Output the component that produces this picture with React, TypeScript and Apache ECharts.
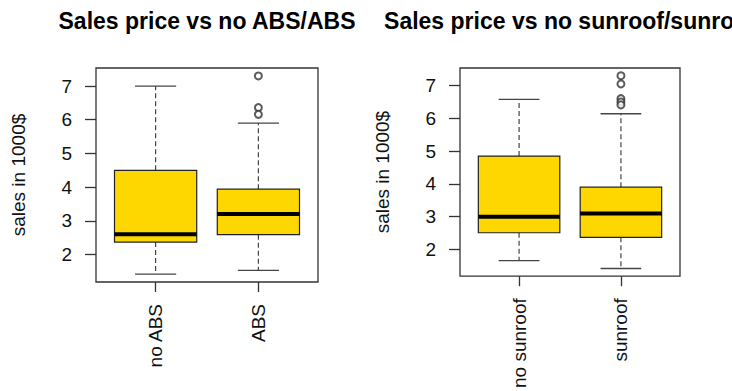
import React, { useEffect, useRef } from "react";
import * as echarts from "echarts";

const panelTitles = ["Sales price vs no ABS/ABS", "Sales price vs no sunroof/sunroof"];
const yAxisTitle = "sales in 1000$";
const absCategories = ["no ABS", "ABS"];
const sunroofCategories = ["no sunroof", "sunroof"];
// [lower whisker, Q1, median, Q3, upper whisker]
const absStats = [
  [1.42, 2.37, 2.6, 4.5, 7.0],
  [1.53, 2.59, 3.2, 3.94, 5.9],
];
const absOutliers = [[], [7.3, 6.36, 6.16]];
const sunroofStats = [
  [1.66, 2.51, 3.0, 4.85, 6.58],
  [1.42, 2.37, 3.1, 3.9, 6.14],
];
const sunroofOutliers = [[], [7.3, 7.05, 6.6, 6.5, 6.41]];
const yTicks = [2, 3, 4, 5, 6, 7];
const xTicks = [1, 2];

const FONT = "'Liberation Sans', Arial, sans-serif";

function renderBox(params: any, api: any) {
  const x = api.value(0);
  const lo = api.value(1);
  const q1 = api.value(2);
  const med = api.value(3);
  const q3 = api.value(4);
  const hi = api.value(5);
  const half = 0.4;
  const capHalf = 0.2;
  const tl = api.coord([x - half, q3]);
  const br = api.coord([x + half, q1]);
  const mL = api.coord([x - half, med]);
  const mR = api.coord([x + half, med]);
  const top = api.coord([x, q3]);
  const hiP = api.coord([x, hi]);
  const bot = api.coord([x, q1]);
  const loP = api.coord([x, lo]);
  const capHiL = api.coord([x - capHalf, hi]);
  const capHiR = api.coord([x + capHalf, hi]);
  const capLoL = api.coord([x - capHalf, lo]);
  const capLoR = api.coord([x + capHalf, lo]);
  const whisk = { stroke: "#444", lineWidth: 1.2, lineDash: [5, 3] };
  const cap = { stroke: "#444", lineWidth: 1.3 };
  return {
    type: "group",
    children: [
      { type: "line", shape: { x1: top[0], y1: top[1], x2: hiP[0], y2: hiP[1] }, style: whisk },
      { type: "line", shape: { x1: bot[0], y1: bot[1], x2: loP[0], y2: loP[1] }, style: whisk },
      { type: "line", shape: { x1: capHiL[0], y1: capHiL[1], x2: capHiR[0], y2: capHiR[1] }, style: cap },
      { type: "line", shape: { x1: capLoL[0], y1: capLoL[1], x2: capLoR[0], y2: capLoR[1] }, style: cap },
      {
        type: "rect",
        shape: { x: tl[0], y: tl[1], width: br[0] - tl[0], height: br[1] - tl[1] },
        style: { fill: "#FFD700", stroke: "#222", lineWidth: 1.2 },
      },
      { type: "line", shape: { x1: mL[0], y1: mL[1], x2: mR[0], y2: mR[1] }, style: { stroke: "#000", lineWidth: 4 } },
    ],
  };
}

function yRange(stats: number[][], outs: number[][]) {
  const all = stats.flat().concat(outs.flat());
  const mn = Math.min(...all);
  const mx = Math.max(...all);
  const pad = (mx - mn) * 0.04;
  return [mn - pad, mx + pad];
}

export default function App() {
  const ref = useRef<HTMLDivElement>(null);
  useEffect(() => {
    if (!ref.current) return;
    const chart = echarts.init(ref.current, undefined, { renderer: "svg" });
    const r1 = yRange(absStats, absOutliers);
    const r2 = yRange(sunroofStats, sunroofOutliers);
    const grids = [
      { left: 96, top: 68, width: 222, height: 214 },
      { left: 460, top: 68, width: 220, height: 214 },
    ];
    const cats = [absCategories, sunroofCategories];
    const ranges = [r1, r2];
    const statsList = [absStats, sunroofStats];
    const outList = [absOutliers, sunroofOutliers];
    const option: any = {
      animation: false,
      backgroundColor: "#fff",
      grid: grids.map((g) => ({ ...g, show: true, borderColor: "#333", borderWidth: 1.3, backgroundColor: "transparent" })),
      xAxis: cats.map((c, i) => ({
        type: "value",
        gridIndex: i,
        min: 0.42,
        max: 2.58,
        splitLine: { show: false },
        axisLine: { show: false },
        axisTick: { show: true, length: 10, inside: false, customValues: xTicks, lineStyle: { color: "#333", width: 1.3 } },
        axisLabel: {
          show: true,
          customValues: xTicks,
          rotate: 90,
          margin: 22,
          fontSize: 19,
          fontFamily: FONT,
          color: "#111",
          formatter: (v: number) => c[Math.round(v) - 1] ?? "",
        },
      })),
      yAxis: ranges.map((r, i) => ({
        type: "value",
        gridIndex: i,
        min: r[0],
        max: r[1],
        splitLine: { show: false },
        axisLine: { show: false },
        axisTick: { show: true, length: 11, inside: false, customValues: yTicks, lineStyle: { color: "#333", width: 1.3 } },
        axisLabel: {
          show: true,
          customValues: yTicks,
          margin: 24,
          fontSize: 19,
          fontFamily: FONT,
          color: "#111",
          formatter: (v: number) => String(Math.round(v)),
        },
        name: yAxisTitle,
        nameLocation: "middle",
        nameGap: 68,
        nameTextStyle: { fontSize: 19, fontFamily: FONT, color: "#111" },
      })),
      graphic: grids.map((g, i) => ({
        type: "text",
        x: g.left + g.width / 2,
        y: 21,
        style: {
          text: panelTitles[i],
          textAlign: "center",
          textVerticalAlign: "middle",
          font: `bold 23px ${FONT}`,
          fill: "#000",
        },
      })),
      series: [
        ...statsList.map((s, i) => ({
          type: "custom",
          xAxisIndex: i,
          yAxisIndex: i,
          renderItem: renderBox,
          encode: { x: 0, y: [1, 2, 3, 4, 5] },
          data: s.map((row, k) => [k + 1, ...row]),
        })),
        ...outList.map((o, i) => ({
          type: "scatter",
          xAxisIndex: i,
          yAxisIndex: i,
          symbol: "emptyCircle",
          symbolSize: 7,
          itemStyle: { color: "#333", borderColor: "#333", borderWidth: 1 },
          data: o.flatMap((vals, k) => vals.map((v) => [k + 1, v])),
        })),
      ],
    };
    chart.setOption(option);
    return () => chart.dispose();
  }, []);
  return <div ref={ref} style={{ position: "absolute", left: 0, top: 0, width: 732, height: 391 }} />;
}
